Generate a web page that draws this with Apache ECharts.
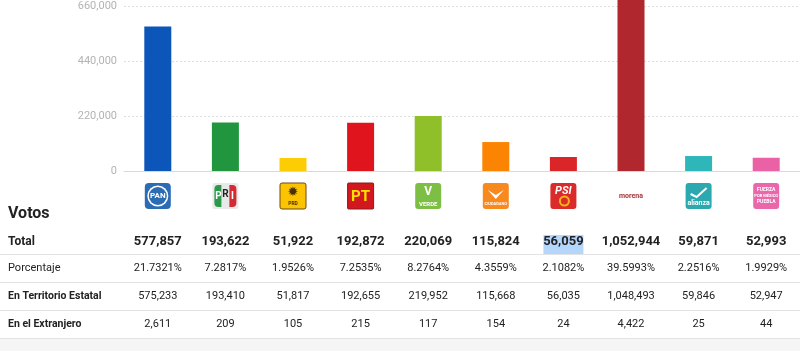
<!DOCTYPE html>
<html>
<head>
<meta charset="utf-8">
<script src="https://cdn.jsdelivr.net/npm/echarts@6/dist/echarts.min.js"></script>
<style>
html,body{margin:0;padding:0;background:#fff}
#main{width:800px;height:351px}
</style>
</head>
<body>
<div id="main"></div>
<script>
// datos de la tabla
var partidos = ['PAN', 'PRI', 'PRD', 'PT', 'VERDE', 'MC', 'PSI', 'MORENA', 'ALIANZA', 'FUERZA']
var totales = [577857, 193622, 51922, 192872, 220069, 115824, 56059, 1052944, 59871, 52993]
var porcentajes = ['21.7321%', '7.2817%', '1.9526%', '7.2535%', '8.2764%', '4.3559%', '2.1082%', '39.5993%', '2.2516%', '1.9929%']
var territorio = [575233, 193410, 51817, 192655, 219952, 115668, 56035, 1048493, 59846, 52947]
var extranjero = [2611, 209, 105, 215, 117, 154, 24, 4422, 25, 44]
var ticksY = [0, 220000, 440000, 660000]

var colores = ['#0c55b9', '#22963e', '#fccc05', '#e0141c', '#8fbf29', '#fb8503', '#da2529', '#b0272d', '#2eb6b9', '#ea61a6']
var fuente = 'Roboto, "Noto Sans", sans-serif'

function miles(n) {
	return String(n).replace(/\B(?=(\d{3})+(?!\d))/g, ',')
}

var dom = document.getElementById('main')
var myChart = echarts.init(dom)

myChart.setOption({
	animation: false,
	grid: { left: 124, top: 6, width: 678, height: 165 },
	xAxis: {
		type: 'category',
		data: partidos,
		axisTick: { show: false },
		axisLabel: { show: false },
		axisLine: { lineStyle: { color: '#d9d9d9' } }
	},
	yAxis: {
		type: 'value',
		min: ticksY[0],
		max: ticksY[ticksY.length - 1],
		interval: ticksY[1] - ticksY[0],
		axisLabel: {
			color: '#b3b3b3',
			fontSize: 11,
			fontFamily: fuente,
			margin: 7,
			formatter: function (v) { return miles(v) }
		},
		splitLine: { lineStyle: { color: '#dedede', type: [2, 2] } }
	},
	series: [{
		type: 'bar',
		barWidth: 27,
		clip: false,
		data: totales.map(function (v, i) {
			return { value: v, itemStyle: { color: colores[i] } }
		})
	}]
})

// logos de partidos (aproximados)
function logo(i, x) {
	var y = 183, x0 = x - 13, c = y + 13
	var els = []
	function caja(fill, r, stroke) {
		els.push({ type: 'rect', shape: { x: x0, y: y, width: 26, height: 26, r: r }, style: { fill: fill, stroke: stroke || null, lineWidth: 1 } })
	}
	function txt(t, tx, ty, font, fill) {
		els.push({ type: 'text', x: tx, y: ty, style: { text: t, font: font, fill: fill, textAlign: 'center', textVerticalAlign: 'middle' } })
	}
	switch (partidos[i]) {
		case 'PAN':
			caja('#2c6cb4', 4)
			els.push({ type: 'circle', shape: { cx: x, cy: c, r: 10.5 }, style: { fill: '#fff' } })
			els.push({ type: 'circle', shape: { cx: x, cy: c, r: 9 }, style: { fill: '#2c6cb4' } })
			txt('PAN', x, c, 'bold 8px ' + fuente, '#fff')
			break
		case 'PRI':
			caja('#e9e9e9', 2)
			els.push({ type: 'rect', shape: { x: x0 + 2, y: y + 2, width: 7, height: 22, r: [4, 0, 0, 4] }, style: { fill: '#2a9a48' } })
			els.push({ type: 'rect', shape: { x: x0 + 17, y: y + 2, width: 7, height: 22, r: [0, 4, 4, 0] }, style: { fill: '#d42a35' } })
			txt('P', x0 + 6, c, 'bold 10px ' + fuente, '#fff')
			txt('R', x, c - 2, 'bold 10px ' + fuente, '#222')
			txt('I', x0 + 20, c, 'bold 10px ' + fuente, '#fff')
			break
		case 'PRD':
			caja('#fcc400', 2, '#6d4b16')
			txt('✹', x, c - 3, '13px "DejaVu Sans"', '#4a3200')
			txt('PRD', x, y + 21, 'bold 5px ' + fuente, '#4a3200')
			break
		case 'PT':
			caja('#d3171f', 1, '#8a1a1a')
			txt('PT', x, c + 1, 'bold 15px ' + fuente, '#fde100')
			break
		case 'VERDE':
			caja('#7dbf44', 3)
			txt('V', x, y + 9, 'bold 12px ' + fuente, '#fff')
			txt('VERDE', x, y + 21, 'bold 6px ' + fuente, '#fff')
			break
		case 'MC':
			caja('#f7891f', 3)
			els.push({ type: 'polygon', shape: { points: [[x - 8, y + 7], [x, y + 12], [x + 8, y + 7], [x, y + 16]] }, style: { fill: '#fff' } })
			txt('CIUDADANO', x, y + 21, 'bold 4px ' + fuente, '#fff')
			break
		case 'PSI':
			caja('#da2a2a', 3)
			txt('PSI', x, y + 8, 'italic bold 11px ' + fuente, '#fff')
			els.push({ type: 'circle', shape: { cx: x + 1, cy: y + 18, r: 4.5 }, style: { fill: null, stroke: '#f7b21b', lineWidth: 2 } })
			break
		case 'MORENA':
			txt('morena', x, c, 'bold 7px ' + fuente, '#a8323c')
			break
		case 'ALIANZA':
			caja('#2ba9ae', 3)
			els.push({ type: 'polyline', shape: { points: [[x - 8, y + 11], [x - 2, y + 14], [x + 8, y + 5]] }, style: { stroke: '#fff', lineWidth: 2, fill: null } })
			txt('alianza', x, y + 20, 'bold 7px ' + fuente, '#fff')
			break
		case 'FUERZA':
			caja('#ea67ac', 3)
			txt('FUERZA', x, y + 7, 'bold 5px ' + fuente, '#fff')
			txt('POR MÉXICO', x, y + 13, 'bold 4px ' + fuente, '#fff')
			txt('PUEBLA', x, y + 19, 'bold 5px ' + fuente, '#fff')
			break
	}
	return { type: 'group', children: els }
}

// tabla debajo de la grafica
function tabla() {
	var g = []
	// seleccion azul sobre PSI
	var xs = partidos.map(function (p, i) { return myChart.convertToPixel({ xAxisIndex: 0 }, i) })
	g.push({ type: 'rect', z: 1, shape: { x: xs[6] - 20, y: 235, width: 40, height: 19 }, style: { fill: '#b5d6fb' } })
	g.push({ type: 'rect', z: 1, shape: { x: 0, y: 339, width: 800, height: 12 }, style: { fill: '#f5f5f5' } })
	;[254, 282, 310, 338].forEach(function (ly) {
		g.push({ type: 'line', z: 2, shape: { x1: 0, y1: ly + 0.5, x2: 800, y2: ly + 0.5 }, style: { stroke: '#e3e3e3', lineWidth: 1 } })
	})
	function celda(t, x, y, font, align) {
		g.push({ type: 'text', z: 3, x: x, y: y, style: { text: t, font: font, fill: '#222', textAlign: align || 'center', textVerticalAlign: 'middle' } })
	}
	celda('Votos', 8, 214, 'bold 16px ' + fuente, 'left')
	celda('Total', 8, 242, 'bold 12px ' + fuente, 'left')
	celda('Porcentaje', 8, 268, '11px ' + fuente, 'left')
	celda('En Territorio Estatal', 8, 296, 'bold 10.5px ' + fuente, 'left')
	celda('En el Extranjero', 8, 324, 'bold 10.5px ' + fuente, 'left')
	xs.forEach(function (x, i) {
		celda(miles(totales[i]), x, 242, 'bold 13px ' + fuente)
		celda(porcentajes[i], x, 268, '11px ' + fuente)
		celda(miles(territorio[i]), x, 296, '11px ' + fuente)
		celda(miles(extranjero[i]), x, 324, '11px ' + fuente)
		g.push(logo(i, x))
	})
	return g
}

myChart.setOption({ graphic: tabla() })
</script>
</body>
</html>
